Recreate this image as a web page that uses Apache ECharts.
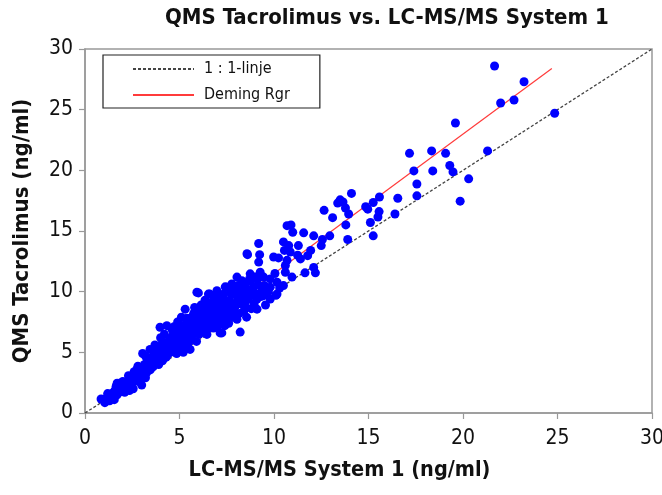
<!DOCTYPE html>
<html>
<head>
<meta charset="utf-8">
<title>QMS Tacrolimus vs. LC-MS/MS System 1</title>
<script src="https://cdn.jsdelivr.net/npm/echarts@6/dist/echarts.min.js"></script>
<style>
  html, body { margin: 0; padding: 0; background: #fff; }
  #chart { width: 662px; height: 495px; }
</style>
</head>
<body>
<div id="chart"></div>
<script>
const FONT = "'Liberation Sans Narrow', 'DejaVu Sans Condensed', sans-serif";
const AXIS_GRAY = "#999";

// LC-MS/MS (x) vs QMS (y), ng/ml
const lowRange = [
  [0.85, 1.15], [1.05, 0.85], [1.1, 1.2], [1.3, 1.0], [1.35, 1.45], [1.45, 1.25], [1.5, 1.7], [1.2, 1.6], [1.55, 1.1],
  [1.6, 1.9], [1.65, 2.2], [1.7, 1.5], [1.75, 2.0], [1.8, 2.35], [1.85, 1.75], [1.9, 2.1], [1.95, 2.45], [2.0, 1.9],
  [2.05, 2.3], [2.1, 1.7], [2.15, 2.2], [2.2, 2.5], [2.25, 2.0], [2.3, 2.35], [2.35, 1.85], [2.4, 2.6], [2.45, 2.2],
  [2.5, 2.45], [2.55, 2.0], [1.7, 2.45], [2.0, 2.6], [2.3, 3.07],
  [2.6, 3.4], [2.65, 2.8], [2.7, 3.1], [2.8, 3.85], [2.85, 2.6], [2.9, 3.3], [2.95, 3.6], [3.0, 2.3], [3.05, 3.0],
  [3.1, 3.5], [3.15, 4.0], [3.2, 2.9], [3.25, 3.3], [3.3, 4.4], [3.35, 3.7], [3.4, 4.1], [3.45, 3.55], [3.5, 3.9],
  [3.55, 4.6], [3.6, 3.8], [2.75, 3.6], [3.2, 4.7], [3.05, 4.9], [3.44, 5.24],
  [3.65, 4.2], [3.7, 4.8], [3.75, 4.05], [3.8, 4.5], [3.85, 5.2], [3.9, 4.0], [3.97, 7.07], [4.0, 4.7], [4.05, 5.5],
  [4.1, 4.3], [4.15, 5.0], [4.2, 4.55], [4.25, 5.7], [4.3, 4.6], [4.33, 7.2], [4.35, 5.3], [4.4, 4.9], [4.45, 6.0],
  [4.5, 4.98], [4.55, 5.5], [4.6, 6.3], [3.7, 5.6], [4.0, 6.2], [4.2, 6.5], [4.45, 5.2], [3.9, 4.9], [4.1, 5.8]
];

const midRange = [
  [4.62, 5.1], [4.65, 5.8], [4.7, 6.6], [4.75, 5.4], [4.8, 6.1], [4.85, 4.9], [4.9, 6.8], [4.95, 5.6], [5.0, 6.3],
  [5.05, 5.2], [5.1, 7.0], [5.15, 5.9], [5.2, 6.5], [5.25, 5.5], [5.3, 8.56], [5.3, 7.3], [5.35, 6.1], [5.4, 6.8],
  [5.45, 5.7], [5.5, 7.6], [5.55, 6.3], [5.56, 5.24], [5.6, 7.0], [4.7, 7.1], [4.9, 7.5], [5.1, 7.9], [5.2, 5.0],
  [5.4, 7.8], [5.0, 5.8], [5.3, 6.6], [4.8, 5.5], [5.45, 6.95], [5.15, 6.75], [5.5, 5.9], [4.6, 6.9],
  [5.65, 6.1], [5.7, 7.4], [5.75, 8.2], [5.8, 6.6], [5.85, 7.9], [5.9, 5.9], [5.92, 9.95], [5.95, 7.1], [6.0, 8.6],
  [6.0, 9.9], [6.05, 6.5], [6.1, 7.6], [6.15, 8.9], [6.2, 6.9], [6.25, 8.0], [6.3, 7.3], [6.35, 9.3], [6.4, 6.6],
  [6.45, 8.4], [6.45, 6.48], [6.5, 7.8], [6.53, 9.8], [6.55, 7.0], [6.6, 9.8], [6.6, 8.7], [5.7, 6.8], [5.8, 8.7],
  [5.9, 7.6], [6.0, 7.3], [6.1, 8.2], [6.2, 7.8], [6.3, 8.6], [6.4, 7.5], [6.5, 9.0], [5.75, 7.0], [6.05, 8.0],
  [6.25, 7.1], [6.35, 8.2], [6.55, 8.0], [5.65, 7.9],
  [6.65, 7.3], [6.7, 8.3], [6.75, 9.2], [6.8, 7.0], [6.8, 9.1], [6.85, 8.6], [6.9, 7.6], [6.95, 9.5], [6.98, 10.08],
  [7.0, 8.1], [7.05, 7.2], [7.1, 8.9], [7.15, 6.6], [7.2, 7.9], [7.24, 6.6], [7.25, 9.3], [7.3, 8.4], [7.33, 9.8],
  [7.35, 7.5], [7.4, 8.8], [7.42, 10.4], [7.45, 7.9], [7.5, 9.1], [7.51, 10.37], [7.55, 8.3], [7.6, 7.4], [6.7, 7.7],
  [6.9, 8.4], [7.1, 7.6], [7.3, 9.6], [7.5, 8.0], [7.0, 9.0], [7.2, 8.6], [6.75, 8.0], [7.4, 7.2],
  [7.65, 9.3], [7.7, 8.6], [7.77, 10.64], [7.8, 7.9], [7.86, 8.56], [7.9, 9.8], [7.95, 10.22], [8.0, 8.9], [8.04, 11.2],
  [8.04, 9.67], [8.04, 7.73], [8.1, 9.4], [8.15, 8.2], [8.2, 10.0], [8.21, 6.67], [8.3, 10.9], [8.3, 8.98], [8.35, 9.6],
  [8.4, 8.4], [8.45, 10.3], [8.48, 10.5], [8.5, 9.2], [8.55, 7.9], [8.57, 13.13], [7.7, 9.9], [7.9, 8.2], [8.1, 10.5],
  [8.25, 9.1], [8.4, 9.9], [7.75, 9.0], [8.0, 10.4], [8.5, 8.7]
];

const highRange = [
  [8.6, 13.05], [8.6, 10.0], [8.65, 9.4], [8.7, 11.0], [8.74, 11.47], [8.74, 10.9], [8.74, 9.67], [8.8, 8.6],
  [8.85, 10.2], [8.92, 10.37], [8.95, 9.0], [9.0, 11.2], [9.05, 9.8], [9.1, 8.56], [9.1, 11.05], [9.1, 9.39],
  [9.15, 10.6], [9.19, 13.97], [9.19, 12.44], [9.24, 13.05], [9.27, 11.6], [9.3, 9.6], [9.36, 10.22], [9.45, 11.2],
  [9.45, 9.67], [9.5, 10.5], [9.55, 8.9],
  [9.7, 10.0], [9.8, 11.05], [9.8, 10.37], [9.8, 9.39], [9.98, 12.86], [10.05, 11.5], [10.1, 9.7], [10.16, 10.78],
  [10.16, 9.8], [10.24, 12.78], [10.3, 10.3], [10.5, 14.1], [10.5, 10.5], [10.55, 13.4], [10.6, 12.16], [10.6, 11.6],
  [10.69, 15.44], [10.69, 12.58], [10.78, 13.8], [10.86, 13.27], [10.9, 15.5], [10.99, 14.9], [10.95, 11.2],
  [11.25, 13.0], [11.29, 13.8], [11.4, 12.7], [11.57, 14.85], [11.64, 11.55],
  [11.78, 12.97], [11.94, 13.4], [12.1, 14.6], [12.5, 13.8], [12.56, 14.3], [12.95, 14.6], [12.1, 12.0], [12.19, 11.55],
  [12.65, 16.7], [13.1, 16.1], [13.37, 17.3], [13.5, 17.57], [13.65, 17.4], [13.78, 16.9], [13.95, 16.4], [14.1, 18.1],
  [13.8, 15.5], [13.9, 14.3], [14.85, 17.0], [14.96, 16.8], [15.25, 17.35], [15.56, 16.6], [15.5, 16.15], [15.58, 17.8],
  [15.1, 15.7], [15.25, 14.6], [16.4, 16.4], [16.55, 17.7], [17.17, 21.4], [17.4, 19.95], [17.56, 18.87], [17.56, 17.9],
  [18.34, 21.6], [18.4, 19.95], [19.08, 21.4], [19.3, 20.4], [19.47, 19.87], [20.3, 19.3], [19.85, 17.46], [19.6, 23.9],
  [21.3, 21.6], [21.67, 28.6], [21.99, 25.55], [22.7, 25.8], [23.23, 27.3], [24.85, 24.7]
];

const identityLine = [[0, 0], [30, 30]];
const demingLine = [[0.85, 0.96], [24.7, 28.4]];

const axisTicks = { min: 0, max: 30, interval: 5 };

function valueAxis(name, extra) {
  return Object.assign({
    type: "value",
    min: axisTicks.min,
    max: axisTicks.max,
    interval: axisTicks.interval,
    name,
    nameLocation: "middle",
    axisLine: { show: true, onZero: false, lineStyle: { color: AXIS_GRAY, width: 1.5 } },
    axisTick: { show: true, inside: false, length: 6, lineStyle: { color: AXIS_GRAY, width: 1.2 } },
    axisLabel: { show: true, fontFamily: FONT, fontSize: 21, color: "#111", margin: 12 },
    splitLine: { show: false },
  }, extra);
}

const chart = echarts.init(document.getElementById("chart"));
chart.setOption({
  animation: false,
  backgroundColor: "#fff",
  title: {
    text: "QMS Tacrolimus vs. LC-MS/MS System 1",
    left: 165,
    top: 7,
    padding: 0,
    textStyle: { fontFamily: FONT, fontWeight: "bold", fontSize: 22, color: "#111" },
  },
  grid: {
    left: 85, right: 10, top: 49, bottom: 82,
    containLabel: false,
    outerBoundsMode: "none",
    show: true,
    borderColor: AXIS_GRAY,
    borderWidth: 1.5,
  },
  legend: {
    data: ["1 : 1-linje", "Deming Rgr"],
    orient: "vertical",
    left: 103,
    top: 55,
    padding: [6, 30, 5, 29],
    itemWidth: 61,
    itemHeight: 14,
    itemGap: 10,
    borderColor: "#222",
    borderWidth: 1.2,
    backgroundColor: "#fff",
    // hide the marker circle ECharts adds on line legend icons
    itemStyle: { opacity: 0 },
    textStyle: { fontFamily: FONT, fontSize: 16, color: "#111", padding: [0, 0, 0, 5] },
  },
  xAxis: valueAxis("LC-MS/MS System 1 (ng/ml)", {
    nameGap: 46,
    nameTextStyle: { fontFamily: FONT, fontWeight: "bold", fontSize: 21.5, color: "#111", padding: [0, 58, 0, 0] },
    axisLabel: { show: true, fontFamily: FONT, fontSize: 21, color: "#111", margin: 15 },
  }),
  yAxis: valueAxis("QMS Tacrolimus (ng/ml)", {
    nameGap: 52,
    nameTextStyle: { fontFamily: FONT, fontWeight: "bold", fontSize: 22, color: "#111" },
  }),
  series: [
    {
      name: "1 : 1-linje",
      type: "line",
      data: identityLine,
      symbol: "none",
      silent: true,
      lineStyle: { color: "#444", width: 1.3, type: [3, 2] },
      z: 1,
    },
    {
      name: "Deming Rgr",
      type: "line",
      data: demingLine,
      symbol: "none",
      silent: true,
      lineStyle: { color: "#ff3b3b", width: 1.2 },
      z: 2,
    },
    {
      name: "Samples",
      type: "scatter",
      data: lowRange.concat(midRange, highRange),
      symbolSize: 9,
      itemStyle: { color: "#0000ff", opacity: 1 },
      z: 3,
    },
  ],
});
</script>
</body>
</html>
